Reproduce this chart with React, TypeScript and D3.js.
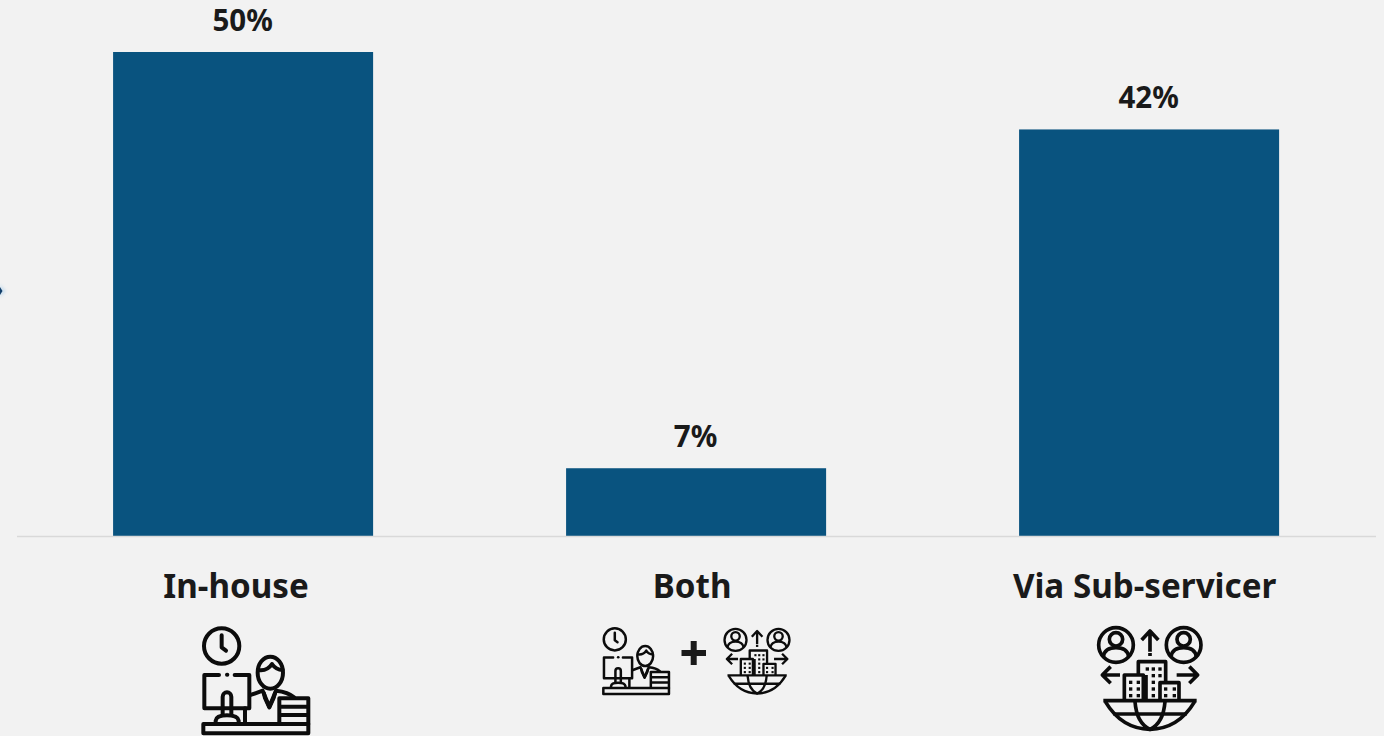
import React from "react";
import * as d3 from "d3";

const categories = ["In-house", "Both", "Via Sub-servicer"];
const shares = [50, 7, 42];
const valueLabels = ["50%", "7%", "42%"];

const W = 1384;
const H = 736;
const INK = "#1a1a1a";
const ICON_INK = "#0c0c0c";
const FONT = "'Noto Sans', Lato, sans-serif";

const buildingWindows: [number, number][] = [
  [147, 212], [147, 232], [147, 252], [170, 212], [170, 232], [170, 252],
  [197, 172], [215, 172], [235, 172], [215, 192], [235, 192],
  [215, 212], [215, 232], [215, 252],
  [252, 232], [278, 232], [252, 252], [278, 252],
];

function Desk() {
  return (
    <g fill="none" stroke={ICON_INK} strokeWidth={12} strokeLinecap="round" strokeLinejoin="round">
      <circle cx={215} cy={258} r={53} />
      <path d="M215,226 V262 L228,272" />
      <path d="M207,345 H163 V445 H298 V345 H254" />
      <path d="M231,344 h1" />
      <path d="M218,465 V410 a13,13 0 0 1 26,0 V465" />
      <path d="M197,488 V482 Q199,466 231,466 Q263,466 266,482 V488" />
      <path d="M285,445 V490" />
      <ellipse cx={361} cy={338} rx={38} ry={48} />
      <path d="M325,330 Q352,334 366,312 Q378,330 398,330" />
      <path d="M302,405 L338,392 L358,440 L378,392 Q415,396 432,412" />
      <path d="M342,400 L345,414 L358,442 L371,414 L375,400" />
      <path d="M388,415 V490 M388,415 H475 V492" />
      <path d="M392,440 H472 M392,465 H472" />
      <path d="M160,492 H475 V520 H160 Z" />
    </g>
  );
}

function Network() {
  return (
    <g fill="none" stroke={ICON_INK} strokeWidth={11} strokeLinecap="butt" strokeLinejoin="round">
      {[108, 311].map((cx) => (
        <g key={cx}>
          <circle cx={cx} cy={105} r={52} />
          <circle cx={cx} cy={88} r={20} />
          <path d={`M${cx - 38},140 Q${cx - 34},113 ${cx},113 Q${cx + 34},113 ${cx + 38},140`} />
        </g>
      ))}
      <path d="M210,125 V65 M185,90 L210,63 L235,90" />
      <path d="M210,129 V138" />
      <path d="M120,195 H70 M92,170 L67,195 L92,220" />
      <path d="M290,195 H350 M328,170 L353,195 L328,220" />
      <path d="M175,195 V155 H257 V218" />
      <path d="M133,272 V195 H190 V272 M240,272 V218 H297 V272 M198,195 V272" />
      <path d="M70,272 H350" />
      <path d="M76,275 Q125,357 210,358 Q295,357 344,275" />
      <path d="M165,275 Q170,340 210,358 Q250,340 255,275" />
      <path d="M100,312 H320" />
      {buildingWindows.map(([x, y]) => (
        <rect key={`${x}-${y}`} x={x} y={y} width={10} height={10} fill={ICON_INK} stroke="none" />
      ))}
    </g>
  );
}

export default function App() {
  const x = d3
    .scaleBand<string>()
    .domain(categories)
    .range([16.6, 1375.6])
    .paddingInner(0.426)
    .paddingOuter(0.213);
  const y = d3.scaleLinear().domain([0, 50]).range([536, 52]);
  const labelShift = d3.scaleOrdinal<string, number>().domain(categories).range([-7, -4, -4.5]);

  return (
    <svg
      width={W}
      height={H}
      viewBox={`0 0 ${W} ${H}`}
      style={{ position: "absolute", left: 0, top: 0, display: "block", background: "#f2f2f2" }}
    >
      <defs>
        <filter id="soft" x="-100%" y="-100%" width="300%" height="300%">
          <feGaussianBlur stdDeviation="1.6" />
        </filter>
      </defs>
      <path d="M0,284 L6,291 L0,298 Z" fill="#cfe1ef" filter="url(#soft)" />
      <path d="M0,287 L2.5,291 L0,295 Z" fill="#123f6b" />

      {categories.map((c, i) => (
        <g key={c}>
          <rect x={x(c)} y={y(shares[i])} width={x.bandwidth()} height={536 - y(shares[i])} fill="#09537f" />
          <text
            x={x(c)! + x.bandwidth() / 2 - 0.5}
            y={y(shares[i]) - 21}
            textAnchor="middle"
            fontFamily={FONT}
            fontWeight={700}
            fontSize={29.5}
            fill={INK}
          >
            {valueLabels[i]}
          </text>
          <text
            x={x(c)! + x.bandwidth() / 2 + labelShift(c)}
            y={597.5}
            textAnchor="middle"
            fontFamily={FONT}
            fontWeight={700}
            fontSize={33.2}
            fill={INK}
          >
            {c}
          </text>
        </g>
      ))}
      <line x1={17} x2={1376} y1={536.5} y2={536.5} stroke="#d9d9d9" strokeWidth={1.5} />

      <g transform="translate(150,560) scale(0.3333)">
        <Desk />
      </g>
      <g transform="translate(1080,610) scale(0.3333)">
        <Network />
      </g>

      <g transform="translate(602.3,627.3) scale(0.2083) translate(-155,-200)">
        <Desk />
      </g>
      <g transform="translate(724.3,628.3) scale(0.2117) translate(-55,-50)">
        <Network />
      </g>
      <path d="M681.5,653 H706 M693.7,641 V665" stroke={INK} strokeWidth={6} fill="none" />
    </svg>
  );
}
